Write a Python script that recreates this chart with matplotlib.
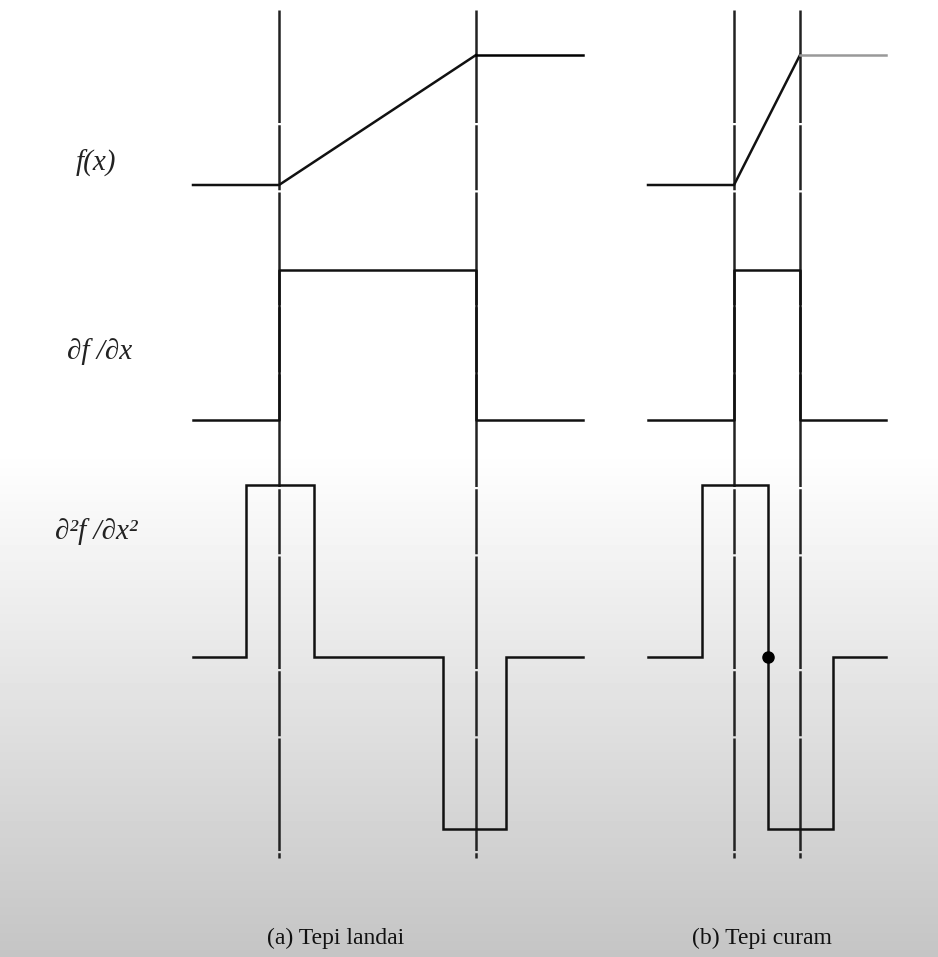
import numpy as np
import matplotlib.pyplot as plt

# panel (a): gentle edge, panel (b): steep edge
# horizontal extent and edge positions (same units as the canvas width)
a_span = [193, 583]
a_edges = [279, 476]
a_pulse_pos = [246, 314]
a_pulse_neg = [443, 506]

b_span = [648, 886]
b_edges = [734, 800]
b_pulse_pos = [702, 768]
b_pulse_neg = [768, 833]
b_zero_cross = 768

row_labels = ["f(x)", "\u2202f /\u2202x", "\u2202\u00b2f /\u2202x\u00b2"]
captions = ["(a) Tepi landai", "(b) Tepi curam"]

# signal levels: f low->high, f' 0->1->0, f'' 0,+1,0,-1,0
f_levels = [0, 0, 1, 1]
df_levels = [0, 0, 1, 1, 0, 0]
d2f_levels = [0, 0, 1, 1, 0, 0, -1, -1, 0, 0]

W, H = 938, 957
fig = plt.figure(figsize=(W / 100, H / 100), dpi=100)
ax = fig.add_axes([0, 0, 1, 1])
ax.set_xlim(0, W)
ax.set_ylim(H, 0)
ax.axis("off")

# background: white top, grey gradient lower half
yy = np.arange(H)
shade = np.where(yy < 450, 1.0, 1.0 - (yy - 450) / (H - 450) * 0.23)
ax.imshow(np.tile(shade[:, None], (1, 2)), cmap="gray", vmin=0, vmax=1,
          extent=[0, W, H, 0], aspect="auto", zorder=0)

# row layout: baseline and amplitude (pixels)
rows = {"f": (185, 130), "df": (420, 150), "d2f": (657, 172)}

lw = 1.8
dash = (0, (45, 0.9, 26, 0.9))


def ypos(row, vals):
    base, amp = rows[row]
    return [base - amp * v for v in vals]


def draw_panel(span, edges, pos, neg, top_color="black"):
    s0, s1 = span
    e0, e1 = edges
    # f(x)
    ax.plot([s0, e0, e1], ypos("f", f_levels[:3]), color="#111111", lw=lw, zorder=3)
    ax.plot([e1, s1], ypos("f", f_levels[2:]), color=top_color, lw=lw, zorder=3)
    # first derivative
    ax.plot([s0, e0, e0, e1, e1, s1], ypos("df", df_levels), color="#111111", lw=lw,
            zorder=3)
    # second derivative
    xs = [s0, pos[0], pos[0], pos[1], pos[1], neg[0], neg[0], neg[1], neg[1], s1]
    ax.plot(xs, ypos("d2f", d2f_levels), color="#111111", lw=lw, zorder=3,
            solid_joinstyle="miter")
    # dashed edge markers
    for e in edges:
        ax.plot([e, e], [10, 858], color="#222222", lw=lw, linestyle=dash, zorder=2)


draw_panel(a_span, a_edges, a_pulse_pos, a_pulse_neg)
draw_panel(b_span, b_edges, b_pulse_pos, b_pulse_neg, top_color="#999999")
ax.plot([b_zero_cross], ypos("d2f", [0]), "o", color="black", ms=8, zorder=4)

serif = ["Liberation Serif", "DejaVu Serif"]
for lab, x, y in zip(row_labels, [96, 100, 96], [163, 352, 532]):
    ax.text(x, y, lab, ha="center", va="center", fontsize=21, style="italic",
            family=serif, color="#222222")

for cap, x in zip(captions, [336, 762]):
    ax.text(x, 938, cap, ha="center", va="center", fontsize=17, family=serif,
            color="#111111")

fig.savefig("out.png", dpi=100)
